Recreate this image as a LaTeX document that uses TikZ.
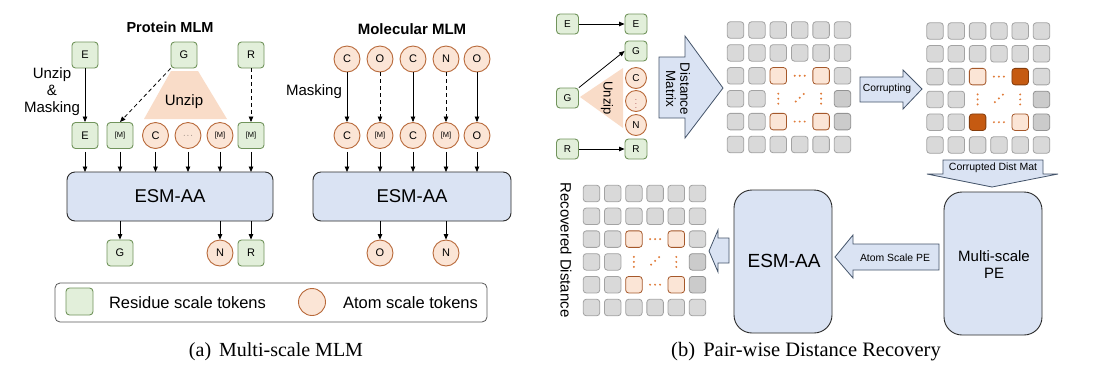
\documentclass[tikz,border=0pt]{standalone}
\usepackage{fontspec}
\setmainfont{Liberation Sans}
\newfontfamily\capfont{Liberation Serif}
\usetikzlibrary{arrows.meta}
\definecolor{resfill}{HTML}{E2EFDA}
\definecolor{resdraw}{HTML}{71945C}
\definecolor{atomfill}{HTML}{FBE5D6}
\definecolor{atomdraw}{HTML}{B8693A}
\definecolor{unzipfill}{HTML}{F9DCC8}
\definecolor{esmfill}{HTML}{DAE3F3}
\definecolor{esmdraw}{HTML}{2B2B2B}
\definecolor{arrdraw}{HTML}{44546A}
\definecolor{cellfill}{HTML}{D9D9D9}
\definecolor{celldraw}{HTML}{A3A3A3}
\definecolor{celldark}{HTML}{CBCBCB}
\definecolor{pdraw}{HTML}{A5582A}
\definecolor{cfill}{HTML}{C55A11}
\definecolor{cdraw}{HTML}{843C0C}
\definecolor{dotc}{HTML}{E07B39}
\newcommand\fs[1]{\fontsize{#1}{#1}\selectfont}
\tikzset{
  res/.style={draw=resdraw, fill=resfill, rounded corners=3.5pt, minimum width=26pt, minimum height=26pt, line width=0.9pt, inner sep=0pt, font=\fs{11}},
  atom/.style={circle, draw=atomdraw, fill=atomfill, minimum size=26pt, inner sep=0pt, line width=0.9pt, font=\fs{11}},
  sres/.style={res, minimum width=22pt, minimum height=20pt, font=\fs{10}},
  satom/.style={atom, minimum size=21pt, font=\fs{10}},
  esm/.style={draw=esmdraw, fill=esmfill, line width=0.9pt},
  arr/.style={-{Triangle[length=5.5pt,width=4.5pt]}, line width=0.8pt, black},
  darr/.style={arr, dash pattern=on 4pt off 3pt},
  blockarr/.style={draw=arrdraw, fill=esmfill, line width=0.8pt, line join=miter},
  cell/.style={draw=celldraw, fill=cellfill, rounded corners=3pt, minimum width=16.5pt, minimum height=16.5pt, line width=0.8pt, inner sep=0pt},
  dcell/.style={cell, fill=celldark, draw=celldraw!90!black},
  pcell/.style={cell, fill=atomfill, draw=pdraw},
  ccell/.style={cell, fill=cfill, draw=cdraw},
  lbl/.style={inner sep=0pt, align=center},
}
% #1 name, #2 x0, #3 y0, #4 dx, #5 dy, #6 style of (3,5), #7 style of (5,3)
\newcommand\distmat[7]{%
  \begin{scope}[shift={(#2,#3)}]
  \foreach \r in {1,2,6}{\foreach \c in {1,...,6}{\node[cell] (#1-\r-\c) at ({(\c-1)*#4},{(\r-1)*#5}) {};}}
  \foreach \r in {3,4,5}{\foreach \c in {1,2}{\node[cell] (#1-\r-\c) at ({(\c-1)*#4},{(\r-1)*#5}) {};}}
  \node[cell] (#1-3-6) at ({5*#4},{2*#5}) {};
  \foreach \r in {4,5}{\node[dcell] (#1-\r-6) at ({5*#4},{(\r-1)*#5}) {};}
  \node[pcell] (#1-3-3) at ({2*#4},{2*#5}) {};
  \node[#6] (#1-3-5) at ({4*#4},{2*#5}) {};
  \node[#7] (#1-5-3) at ({2*#4},{4*#5}) {};
  \node[pcell] (#1-5-5) at ({4*#4},{4*#5}) {};
  \foreach \o in {-5,0,5}{
    \fill[dotc] ({3*#4+\o},{2*#5}) circle (1.1);
    \fill[dotc] ({3*#4+\o},{4*#5}) circle (1.1);
    \fill[dotc] ({2*#4},{3*#5+\o}) circle (1.1);
    \fill[dotc] ({4*#4},{3*#5+\o}) circle (1.1);
    \fill[dotc] ({3*#4+0.8*\o},{3*#5-1-0.75*\o}) circle (1.1);
  }
  \end{scope}}
\begin{document}
\begin{tikzpicture}[x=1pt,y=-1pt]
\useasboundingbox (0,0) rectangle (1109,368);
\fill[white] (0,0) rectangle (1109,368);

%%%%%% (a) Protein MLM
\node[lbl, font=\fs{14.5}\bfseries] (tp) at (170,27) {Protein MLM};
\fill[unzipfill] (171,71) -- (198,71) -- (227,119) -- (144,119) -- cycle;
\node[lbl, font=\fs{15}] (uz) at (184,102) {Unzip};
\node[res] (E1) at (85,55) {E};
\node[res] (G1) at (184,55) {G};
\node[res] (R1) at (251,55) {R};
\node[lbl, font=\fs{15}, align=center] (um) at (52,92) {Unzip\\[2pt]\&\\[2pt]Masking};
\node[res] (E2) at (85,135.5) {E};
\node[res, font=\fs{7.5}] (M1) at (120,135.5) {[M]};
\node[atom] (C1) at (155.5,135.5) {C};
\node[atom, font=\fs{7}] (D1) at (188,135.5) {$\cdots$};
\node[atom, font=\fs{7.5}] (M2) at (220,135.5) {[M]};
\node[res, font=\fs{7.5}] (M3) at (251,135.5) {[M]};
\draw[arr] (E1) -- (E2);
\draw[darr] (G1.south west) -- (M1.north);
\draw[darr] (R1) -- (M3);
\draw[esm, rounded corners=8pt] (67,172) rectangle (273,221);
\node[lbl, font=\fs{18.5}] (esm1) at (170,196.5) {ESM-AA};
\coordinate (esm1top) at (170,172);
\coordinate (esm1bot) at (170,221);
\foreach \n in {E2,M1,C1,D1,M2,M3}{\draw[arr] (\n.south) ++(0,3) -- (\n.south |- esm1top);}
\node[res] (OG) at (120,253) {G};
\node[atom] (ON) at (220,253) {N};
\node[res] (OR) at (251,253) {R};
\foreach \n in {OG,ON,OR}{\draw[arr] (\n.north |- esm1bot) -- (\n.north);}

%%%%%% (a) Molecular MLM
\node[lbl, font=\fs{15}\bfseries] (tm) at (412,29) {Molecular MLM};
\node[atom] (a1) at (347,59) {C};
\node[atom] (a2) at (380,59) {O};
\node[atom] (a3) at (413,59) {C};
\node[atom] (a4) at (446,59) {N};
\node[atom] (a5) at (477,59) {O};
\node[atom] (b1) at (347,135.5) {C};
\node[atom, font=\fs{7.5}] (b2) at (380,135.5) {[M]};
\node[atom] (b3) at (413,135.5) {C};
\node[atom, font=\fs{7.5}] (b4) at (446,135.5) {[M]};
\node[atom] (b5) at (477,135.5) {O};
\node[lbl, font=\fs{15}] (mk) at (314,92) {Masking};
\draw[arr] (a1) -- (b1);
\draw[darr] (a2) -- (b2);
\draw[arr] (a3) -- (b3);
\draw[darr] (a4) -- (b4);
\draw[arr] (a5) -- (b5);
\draw[esm, rounded corners=8pt] (313,172) rectangle (511,221);
\node[lbl, font=\fs{18.5}] (esm2) at (412,196.5) {ESM-AA};
\coordinate (esm2top) at (412,172);
\coordinate (esm2bot) at (412,221);
\foreach \n in {b1,b2,b3,b4,b5}{\draw[arr] (\n.south) ++(0,3) -- (\n.south |- esm2top);}
\node[atom] (OO) at (380,253) {O};
\node[atom] (ON2) at (446,253) {N};
\foreach \n in {OO,ON2}{\draw[arr] (\n.north |- esm2bot) -- (\n.north);}

%%%%%% legend
\draw[draw=black!65, line width=0.8pt, rounded corners=5pt] (55,283) rectangle (487,322);
\node[res, minimum width=27pt, minimum height=27pt] (lg1) at (79.5,301.5) {};
\node[lbl, font=\fs{16.5}] (lt1) at (187.5,303) {Residue scale tokens};
\node[atom, minimum size=27pt] (lg2) at (312,302) {};
\node[lbl, font=\fs{16.5}] (lt2) at (410.5,303) {Atom scale tokens};

\node[lbl, font=\capfont\fs{20}] (capa) at (276,352) {(a)\hspace{0.15em} Multi-scale MLM};

%%%%%% (b)
\fill[unzipfill] (580,97) -- (623,68) -- (623,128) -- cycle;
\node[lbl, font=\fs{13}, rotate=-90] (uz2) at (607,98) {Unzip};
\node[sres] (El) at (567.5,24) {E};
\node[sres] (Gl) at (567.5,98) {G};
\node[sres] (Rl) at (567.5,149) {R};
\node[sres] (Er) at (636,24) {E};
\node[sres] (Gr) at (636,51) {G};
\node[satom] (Cr) at (636,78) {C};
\node[satom, font=\fs{8}, text=atomdraw!70!violet] (Dr) at (636,101) {$\vdots$};
\node[satom] (Nr) at (636,125) {N};
\node[sres] (Rr) at (636,149) {R};
\draw[arr] (El) -- (Er);
\draw[arr] (Gl.north east) -- (Gr.west);
\draw[arr] (Rl) -- (Rr);

\draw[blockarr] (659,57) -- (685,57) -- (685,36) -- (723,88) -- (685,138) -- (685,118) -- (659,118) -- cycle;
\node[lbl, font=\fs{13.4}, rotate=-90, align=center] (dm) at (678,89) {Distance\\[1pt]Matrix};

\distmat{ma}{735.5}{30}{21.4}{22.9}{pcell}{pcell}

\draw[blockarr] (860,77) -- (903,77) -- (903,70) -- (922,89) -- (903,109) -- (903,102) -- (860,102) -- cycle;
\node[lbl, font=\fs{10.3}] (cr) at (887,89) {Corrupting};

\distmat{mb}{935}{31}{21.3}{22.8}{ccell}{ccell}

\draw[blockarr] (943,160) -- (1043,160) -- (1043,174) -- (1058,174) -- (992,187) -- (927,174) -- (943,174) -- cycle;
\node[lbl, font=\fs{10.5}] (cdm) at (993,168) {Corrupted Dist Mat};

\draw[esm, rounded corners=18pt] (944,192) rectangle (1042,335);
\node[lbl, font=\fs{15}, align=center] (mpe) at (994,265) {Multi-scale\\[2pt]PE};

\draw[blockarr] (939,244) -- (853,244) -- (853,235) -- (835,257) -- (853,278) -- (853,270) -- (939,270) -- cycle;
\node[lbl, font=\fs{10.4}] (ape) at (895,258) {Atom Scale PE};

\draw[esm, rounded corners=18pt] (734,190) rectangle (832,333);
\node[lbl, font=\fs{19}] (esm3) at (784,261) {ESM-AA};

\draw[blockarr] (729,238) -- (718,238) -- (718,230) -- (709,251) -- (718,272) -- (718,263) -- (729,263) -- cycle;

\distmat{mc}{591.5}{193.5}{21.2}{22.8}{pcell}{pcell}
\node[lbl, font=\fs{15}, rotate=-90] (rd) at (566,250) {Recovered Distance};

\node[lbl, font=\capfont\fs{20.5}] (capb) at (806,352) {(b)\hspace{0.15em} Pair-wise Distance Recovery};
\end{tikzpicture}
\end{document}
